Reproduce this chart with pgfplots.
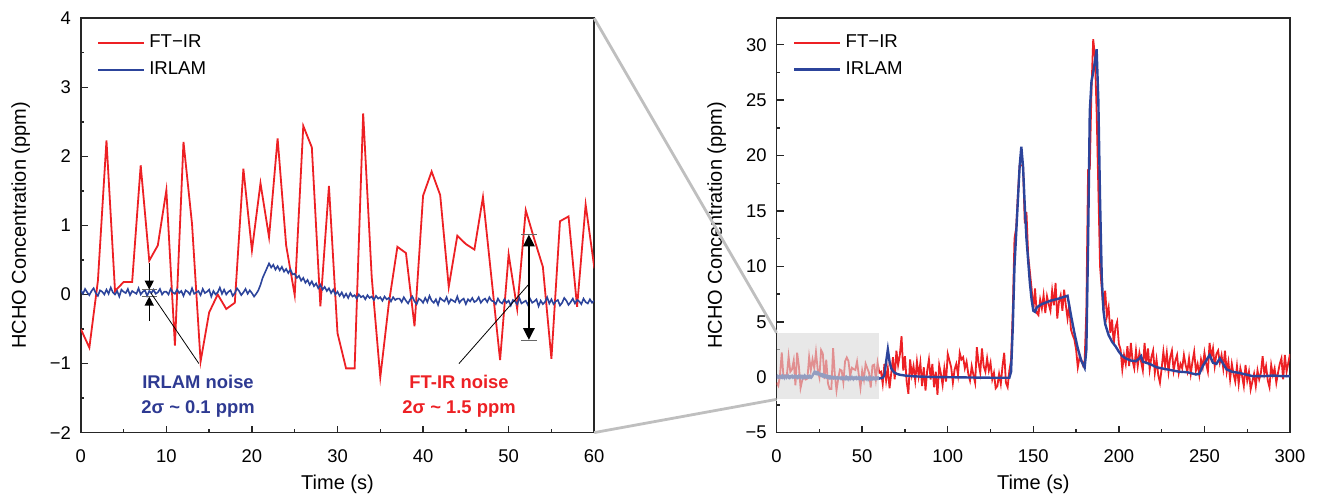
\documentclass[border=0pt]{standalone}
\usepackage{fontspec}
\setmainfont{Liberation Sans}
\usepackage{pgfplots}
\pgfplotsset{compat=1.18}
\usepackage{pgfplotstable}
\usetikzlibrary{arrows.meta}
\definecolor{ftred}{RGB}{237,32,36}
\definecolor{irblue}{RGB}{44,68,155}
\definecolor{txtblue}{RGB}{46,58,146}

\pgfplotstableread{
t v
0 -0.50
1 -0.77
2 0.20
3 2.23
4 0.05
5 0.18
6 0.18
7 1.87
8 0.49
9 0.71
10 1.51
11 -0.74
12 2.21
13 1.02
14 -0.97
15 -0.26
16 0.00
17 -0.21
18 -0.12
19 1.82
20 0.64
21 1.61
22 0.83
23 2.26
24 0.71
25 -0.01
26 2.44
27 2.13
28 -0.17
29 1.57
30 -0.56
31 -1.07
32 -1.07
33 2.62
34 0.25
35 -1.20
36 -0.13
37 0.69
38 0.60
39 -0.46
40 1.43
41 1.78
42 1.44
43 0.11
44 0.85
45 0.73
46 0.65
47 1.41
48 0.23
49 -0.95
50 0.58
51 -0.21
52 1.22
53 0.80
54 0.40
55 -0.93
56 1.06
57 1.13
58 -0.18
59 1.30
60 0.40
61 0.5
62 -0.6
63 1.2
64 -0.3
65 0.8
66 -1.0
67 0.4
68 1.8
69 -0.2
70 2.4
71 1.1
72 2.0
73 3.7
74 0.6
75 1.9
76 -0.4
77 -1.5
78 1.6
79 0.2
80 1.0
81 -0.3
82 1.4
83 0.1
84 1.3
85 -0.8
86 0.9
87 -1.2
88 0.6
89 1.6
90 -0.2
91 1.2
92 -0.9
93 0.5
94 -1.6
95 1.1
96 0.3
97 -0.7
98 0.8
99 -0.4
100 2.1
101 1.5
102 0.9
103 -0.5
104 0.7
105 1.2
106 0.2
107 2.2
108 1.6
109 1.8
110 0.8
111 1.4
112 0.3
113 -0.3
114 1.0
115 0.2
116 -0.5
117 2.7
118 1.3
119 0.4
120 2.6
121 1.0
122 0.5
123 1.7
124 0.6
125 1.3
126 -0.2
127 0.4
128 -1.0
129 -0.8
130 0.3
131 -0.6
132 1.0
133 2.2
134 -0.5
135 -0.9
136 0.6
137 1.5
138 6.0
139 12.5
140 13.5
141 16.5
142 19.1
143 19.1
144 19.1
145 13.9
146 14.9
147 11.0
148 9.5
149 8.0
150 6.0
151 8.0
152 5.8
153 5.6
154 7.0
155 6.2
156 7.4
157 5.8
158 7.3
159 6.6
160 6.0
161 7.8
162 6.5
163 8.5
164 5.3
165 6.8
166 7.4
167 6.0
168 7.9
169 6.5
170 5.3
171 6.5
172 4.3
173 3.8
174 3.4
175 2.5
176 0.9
177 1.8
178 1.6
179 1.1
180 1.5
181 6.0
182 18.7
183 18.8
184 26.0
185 30.5
186 29.0
187 24.0
188 17.0
189 10.0
190 8.0
191 6.0
192 7.8
193 5.5
194 6.3
195 4.0
196 5.2
197 3.0
198 4.5
199 5.0
200 3.0
201 2.5
202 0.7
203 2.0
204 1.2
205 2.8
206 1.0
207 3.1
208 1.5
209 0.8
210 2.4
211 1.0
212 2.2
213 1.4
214 0.6
215 3.1
216 1.2
217 2.6
218 0.7
219 1.8
220 2.4
221 0.4
222 1.6
223 0.2
224 -0.5
225 0.8
226 2.3
227 1.0
228 2.2
229 0.5
230 1.8
231 2.4
232 0.6
233 1.5
234 2.0
235 0.4
236 1.2
237 0.8
238 2.0
239 1.1
240 0.5
241 1.7
242 0.3
243 1.4
244 2.3
245 0.6
246 1.2
247 0.2
248 1.6
249 0.9
250 2.2
251 1.2
252 0.5
253 3.1
254 1.8
255 2.6
256 1.0
257 2.1
258 2.4
259 1.3
260 2.0
261 0.8
262 2.4
263 0.5
264 1.4
265 -0.2
266 1.2
267 0.3
268 -0.4
269 1.0
270 -0.6
271 0.8
272 0.1
273 -0.8
274 1.1
275 -0.3
276 0.5
277 -1.1
278 -0.4
279 0.3
280 -0.8
281 0.6
282 -0.2
283 0.4
284 1.9
285 0.3
286 1.0
287 -0.3
288 -0.9
289 1.1
290 0.2
291 0.8
292 -0.5
293 0.4
294 1.2
295 1.7
296 -0.2
297 2.0
298 0.5
299 1.3
300 2.1
}\ftir

\pgfplotstableread{
t v
0 0.06
0.25 0.01
0.5 0.08
0.75 0.03
1 -0.01
1.25 0.05
1.5 0.09
1.75 0.02
2 -0.02
2.25 0.06
2.5 0.04
2.75 0.00
3 0.07
3.25 0.01
3.5 0.10
3.75 0.03
4 0.00
4.25 0.05
4.5 -0.03
4.75 0.07
5 0.04
5.25 0.02
5.5 0.08
5.75 -0.01
6 0.05
6.25 0.03
6.5 0.01
6.75 0.09
7 0.00
7.25 0.04
7.5 0.06
7.75 -0.02
8 0.05
8.25 0.02
8.5 0.07
8.75 0.01
9 0.03
9.25 0.08
9.5 0.00
9.75 0.04
10 0.04
10.25 0.00
10.5 0.08
10.75 0.03
11 0.01
11.25 0.07
11.5 0.02
11.75 0.05
12 -0.02
12.25 0.06
12.5 0.04
12.75 0.00
13 0.09
13.25 0.01
13.5 0.03
13.75 0.05
14 -0.01
14.25 0.08
14.5 0.02
14.75 0.04
15 0.07
15.25 -0.03
15.5 0.05
15.75 0.00
16 0.03
16.25 0.10
16.5 0.01
16.75 0.07
17 0.00
17.25 0.04
17.5 0.06
17.75 -0.02
18 0.02
18.25 0.09
18.5 0.05
18.75 -0.01
19 0.03
19.25 0.08
19.5 0.01
19.75 0.06
20 0.02
20.25 -0.03
20.5 0.01
20.75 0.06
21 0.14
21.25 0.24
21.5 0.31
21.75 0.38
22 0.45
22.25 0.39
22.5 0.43
22.75 0.36
23 0.41
23.25 0.35
23.5 0.40
23.75 0.33
24 0.37
24.25 0.31
24.5 0.36
24.75 0.29
25 0.30
25.25 0.24
25.5 0.27
25.75 0.20
26 0.24
26.25 0.17
26.5 0.21
26.75 0.14
27 0.19
27.25 0.12
27.5 0.16
27.75 0.09
28 0.14
28.25 0.07
28.5 0.11
28.75 0.05
29 0.09
29.25 0.02
29.5 0.07
29.75 0.00
30 0.04
30.25 -0.02
30.5 0.03
30.75 -0.04
31 0.01
31.25 -0.05
31.5 0.02
31.75 -0.03
32 -0.01
32.25 -0.06
32.5 0.00
32.75 -0.04
33 -0.02
33.25 -0.07
33.5 -0.01
33.75 -0.05
34 -0.03
34.25 -0.08
34.5 -0.02
34.75 -0.06
35 -0.04
35.25 -0.09
35.5 -0.03
35.75 -0.07
36 -0.05
36.25 -0.10
36.5 -0.04
36.75 -0.08
37 -0.06
37.25 -0.06
37.5 -0.11
37.75 -0.04
38 -0.09
38.25 -0.13
38.5 -0.07
38.75 -0.03
39 -0.10
39.25 -0.14
39.5 -0.06
39.75 -0.08
40 -0.12
40.25 -0.05
40.5 -0.11
40.75 -0.02
41 -0.09
41.25 -0.12
41.5 -0.07
41.75 -0.15
42 -0.05
42.25 -0.08
42.5 -0.10
42.75 -0.04
43 -0.13
43.25 -0.07
43.5 -0.09
43.75 -0.11
44 -0.03
44.25 -0.12
44.5 -0.08
44.75 -0.06
45 -0.14
45.25 -0.07
45.5 -0.10
45.75 -0.05
46 -0.11
46.25 -0.09
46.5 -0.04
46.75 -0.12
47 -0.08
47.25 -0.06
47.5 -0.11
47.75 -0.04
48 -0.09
48.25 -0.10
48.5 -0.14
48.75 -0.06
49 -0.11
49.25 -0.13
49.5 -0.07
49.75 -0.12
50 -0.09
50.25 -0.16
50.5 -0.08
50.75 -0.10
51 -0.14
51.25 -0.05
51.5 -0.13
51.75 -0.11
52 -0.09
52.25 -0.15
52.5 -0.06
52.75 -0.12
53 -0.10
53.25 -0.07
53.5 -0.17
53.75 -0.09
54 -0.14
54.25 -0.11
54.5 -0.04
54.75 -0.13
55 -0.07
55.25 -0.14
55.5 -0.10
55.75 -0.08
56 -0.16
56.25 -0.12
56.5 -0.05
56.75 -0.09
57 -0.15
57.25 -0.11
57.5 -0.06
57.75 -0.13
58 -0.08
58.25 -0.10
58.5 -0.14
58.75 -0.06
59 -0.11
59.25 -0.13
59.5 -0.07
59.75 -0.12
60 -0.09
}\irlamA

\pgfplotstableread{
t v
60 -0.09
61 -0.10
62 -0.05
63 0.20
64 1.40
65 2.50
66 1.40
67 0.80
68 0.55
69 0.40
70 0.32
72 0.22
75 0.15
80 0.08
85 0.05
90 0.02
100 0.00
110 -0.02
120 -0.04
130 -0.05
136 -0.05
137 0.50
138 4.50
139 10.0
140 13.0
141 16.0
142 19.0
143 20.8
144 19.0
145 15.5
146 12.5
147 10.5
148 8.5
149 7.0
150 6.0
151 5.9
152 6.3
155 6.6
160 6.9
165 7.1
170 7.35
172 5.6
174 4.0
176 2.6
178 1.5
180 0.85
181 2.5
182 12.0
183 24.0
184 26.7
185 27.5
186 28.5
187 29.6
188 25.0
189 16.0
190 9.0
191 6.0
192 4.8
194 3.8
196 3.2
198 2.8
200 2.3
202 1.9
204 1.7
207 1.5
210 1.45
212 1.7
213 1.9
214 1.4
218 1.2
222 0.9
225 0.8
230 0.65
235 0.5
240 0.45
245 0.25
247 0.3
249 1.0
251 1.5
253 2.0
255 1.3
257 1.2
259 1.7
261 1.2
263 0.7
266 0.5
270 0.4
274 0.25
278 0.1
285 0.1
290 0.15
295 0.1
300 0.1
}\irlamB

\pgfplotsset{
  mystyle/.style={
    scale only axis,
    width=256.7pt, height=207.2pt,
    axis line style={black!85, line width=0.8pt},
    tick align=inside,
    tick pos=left,
    major tick length=3.5pt, minor tick length=1.8pt,
    every tick/.style={black!85, line width=0.7pt},
    /pgf/number format/assume math mode=true,
    tick label style={font=\fontsize{9.2}{10}\selectfont},
    xticklabel style={yshift=-5pt},
    yticklabel style={xshift=-1.5pt},
    label style={font=\fontsize{10}{12}\selectfont},
    xlabel={Time (s)},
    ylabel={HCHO Concentration (ppm)},
    xlabel style={at={([yshift=-26pt]axis description cs:0.5,0)}, anchor=center},
    ylabel style={at={([xshift=-30pt]axis description cs:0,0.5)}, anchor=center},
    legend style={draw=none, fill=none, font=\fontsize{9.3}{11}\selectfont,
      at={(axis description cs:0.02,0.98)}, anchor=north west, row sep=1.5pt},
    legend cell align=left,
    legend image code/.code={\draw[##1] (0pt,0pt) -- (23pt,0pt);},
  }
}

\begin{document}
\begin{tikzpicture}
\path[use as bounding box] (0,0) rectangle (660pt,249.5pt);
\begin{axis}[mystyle,
  at={(40.4pt,33.2pt)}, anchor=south west,
  xmin=0, xmax=60, ymin=-2, ymax=4,
  xtick={0,10,...,60}, minor xtick={5,15,...,55},
  ytick={-2,-1,0,1,2,3,4},
  yticklabels={−2,−1,0,1,2,3,4},
  minor ytick={-1.5,-0.5,...,3.5},
]
\addlegendimage{ftred, line width=0.9pt}
\addlegendentry{FT−IR}
\addlegendimage{irblue, line width=0.9pt}
\addlegendentry{IRLAM}
\addplot[ftred, line width=0.9pt, forget plot] table[x=t,y=v] {\ftir};
\addplot[irblue, line width=0.8pt, forget plot] table[x=t,y=v] {\irlamA};
% IRLAM noise marker
\draw[black!60, line width=0.5pt] (axis cs:7.1,0.07) -- (axis cs:8.9,0.07);
\draw[black!60, line width=0.5pt] (axis cs:7.1,-0.03) -- (axis cs:8.9,-0.03);
\draw[-{Triangle[length=4.5pt,width=4.5pt]}, line width=0.6pt] (axis cs:8,0.45) -- (axis cs:8,0.07);
\draw[-{Triangle[length=4.5pt,width=4.5pt]}, line width=0.6pt] (axis cs:8,-0.38) -- (axis cs:8,-0.03);
\draw[line width=0.4pt] (axis cs:8.2,0.02) -- (axis cs:13.8,-1.0);
\node[font=\bfseries\fontsize{9.2}{12.5}\selectfont, text=txtblue, align=center] at (axis cs:13.7,-1.47) {IRLAM noise\\2σ \textasciitilde{} 0.1 ppm};
% FT-IR noise marker
\draw[black!60, line width=0.5pt] (axis cs:51.45,0.87) -- (axis cs:53.3,0.87);
\draw[black!60, line width=0.5pt] (axis cs:51.45,-0.66) -- (axis cs:53.3,-0.66);
\draw[{Triangle[length=6pt,width=5.5pt]}-{Triangle[length=6pt,width=5.5pt]}, line width=1.4pt] (axis cs:52.37,0.87) -- (axis cs:52.37,-0.66);
\draw[line width=0.4pt] (axis cs:52.37,0.15) -- (axis cs:44.2,-1.0);
\node[font=\bfseries\fontsize{9.2}{12.5}\selectfont, text=ftred, align=center] at (axis cs:44.2,-1.47) {FT-IR noise\\2σ \textasciitilde{} 1.5 ppm};
\coordinate (L1) at (axis cs:60,4);
\coordinate (L2) at (axis cs:60,-2);
\end{axis}

\begin{axis}[mystyle,
  at={(388.3pt,33.2pt)}, anchor=south west,
  xmin=0, xmax=300, ymin=-5, ymax=32.4,
  xtick={0,50,...,300}, minor xtick={25,75,...,275},
  ytick={-5,0,5,10,15,20,25,30},
  yticklabels={−5,0,5,10,15,20,25,30},
  minor ytick={-2.5,2.5,7.5,12.5,17.5,22.5,27.5},
]
\addlegendimage{ftred, line width=0.9pt}
\addlegendentry{FT−IR}
\addlegendimage{irblue, line width=1.2pt}
\addlegendentry{IRLAM}
\addplot[ftred, line width=0.9pt, forget plot] table[x=t,y=v] {\ftir};
\addplot[irblue, line width=1.2pt, forget plot] table[x=t,y=v] {\irlamA};
\addplot[irblue, line width=1.2pt, forget plot] table[x=t,y=v] {\irlamB};
\fill[black!15, opacity=0.6] (axis cs:0.4,-2) rectangle (axis cs:60,4);
\coordinate (R1) at (axis cs:0,4);
\coordinate (R2) at (axis cs:0,-2);
\end{axis}

\draw[black!25, line width=1.4pt] (L1) -- (R1);
\draw[black!25, line width=1.4pt] (L2) -- (R2);
\end{tikzpicture}
\end{document}
